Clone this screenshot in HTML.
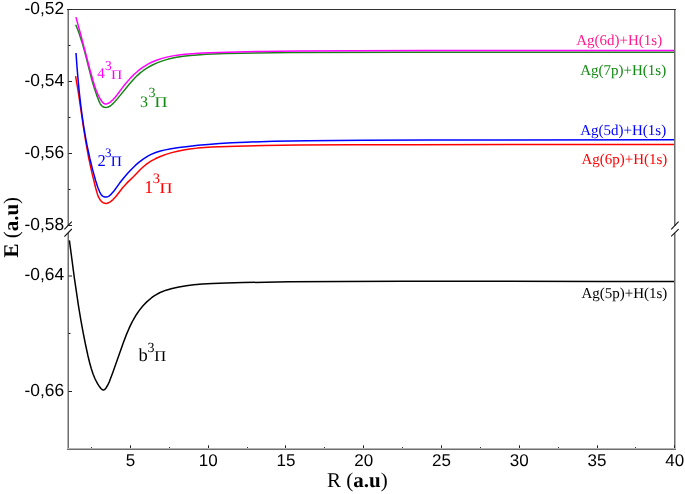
<!DOCTYPE html>
<html><head><meta charset="utf-8"><style>
html,body{margin:0;padding:0;background:#fff;width:685px;height:494px;overflow:hidden;}
svg{display:block;font-family:"Liberation Sans",sans-serif;will-change:transform;text-rendering:geometricPrecision;}
</style></head><body>
<svg width="685" height="494" viewBox="0 0 685 494"><rect width="685" height="494" fill="#fff"/><rect x="67" y="9" width="1" height="217" fill="#b4b4b4"/><rect x="68" y="9" width="1" height="217" fill="#6e6e6e"/><rect x="67" y="233" width="1" height="217" fill="#b4b4b4"/><rect x="68" y="233" width="1" height="217" fill="#6e6e6e"/><rect x="674" y="9" width="1" height="217" fill="#6e6e6e"/><rect x="675" y="9" width="1" height="217" fill="#b4b4b4"/><rect x="674" y="233" width="1" height="217" fill="#6e6e6e"/><rect x="675" y="233" width="1" height="217" fill="#b4b4b4"/><rect x="67" y="9" width="609" height="1" fill="#333333"/><rect x="67" y="448" width="609" height="1" fill="#b4b4b4"/><rect x="67" y="449" width="609" height="1" fill="#6e6e6e"/><line x1="68.5" y1="9.5" x2="72" y2="9.5" stroke="#222" stroke-width="1"/><line x1="68.5" y1="81.5" x2="72" y2="81.5" stroke="#222" stroke-width="1"/><line x1="68.5" y1="153.5" x2="72" y2="153.5" stroke="#222" stroke-width="1"/><line x1="68.5" y1="225.5" x2="72" y2="225.5" stroke="#222" stroke-width="1"/><line x1="68.5" y1="276" x2="72" y2="276" stroke="#222" stroke-width="1"/><line x1="68.5" y1="391.5" x2="72" y2="391.5" stroke="#222" stroke-width="1"/><line x1="68.5" y1="45.5" x2="70.5" y2="45.5" stroke="#222" stroke-width="1"/><line x1="68.5" y1="117.5" x2="70.5" y2="117.5" stroke="#222" stroke-width="1"/><line x1="68.5" y1="189.5" x2="70.5" y2="189.5" stroke="#222" stroke-width="1"/><line x1="68.5" y1="333.5" x2="70.5" y2="333.5" stroke="#222" stroke-width="1"/><line x1="130.5" y1="448" x2="130.5" y2="445.3" stroke="#222" stroke-width="1"/><line x1="208.5" y1="448" x2="208.5" y2="445.3" stroke="#222" stroke-width="1"/><line x1="285.5" y1="448" x2="285.5" y2="445.3" stroke="#222" stroke-width="1"/><line x1="363.5" y1="448" x2="363.5" y2="445.3" stroke="#222" stroke-width="1"/><line x1="441.5" y1="448" x2="441.5" y2="445.3" stroke="#222" stroke-width="1"/><line x1="519.5" y1="448" x2="519.5" y2="445.3" stroke="#222" stroke-width="1"/><line x1="597.5" y1="448" x2="597.5" y2="445.3" stroke="#222" stroke-width="1"/><line x1="674.5" y1="448" x2="674.5" y2="445.3" stroke="#222" stroke-width="1"/><line x1="91.5" y1="448" x2="91.5" y2="447.1" stroke="#222" stroke-width="1"/><line x1="169.5" y1="448" x2="169.5" y2="447.1" stroke="#222" stroke-width="1"/><line x1="247.5" y1="448" x2="247.5" y2="447.1" stroke="#222" stroke-width="1"/><line x1="324.5" y1="448" x2="324.5" y2="447.1" stroke="#222" stroke-width="1"/><line x1="402.5" y1="448" x2="402.5" y2="447.1" stroke="#222" stroke-width="1"/><line x1="480.5" y1="448" x2="480.5" y2="447.1" stroke="#222" stroke-width="1"/><line x1="558.5" y1="448" x2="558.5" y2="447.1" stroke="#222" stroke-width="1"/><line x1="635.5" y1="448" x2="635.5" y2="447.1" stroke="#222" stroke-width="1"/><line x1="64.4" y1="229.3" x2="71.8" y2="221.6" stroke="#111" stroke-width="1.1"/><line x1="64.4" y1="236.6" x2="71.8" y2="229" stroke="#111" stroke-width="1.1"/><line x1="671.2" y1="229.3" x2="678.6" y2="221.7" stroke="#111" stroke-width="1.1"/><line x1="671.2" y1="236.4" x2="678.6" y2="229.2" stroke="#111" stroke-width="1.1"/><path d="M75.71 24.70L77.60 29.27 79.32 33.93 82.37 43.42 85.04 53.08 91.77 79.47 94.19 87.76 96.67 95.12 99.32 101.92 100.22 103.79 100.89 104.84 101.65 105.76 102.53 106.51 103.56 107.04 104.70 107.35 105.88 107.43 107.03 107.30 108.15 106.99 109.24 106.50 111.11 105.29 112.70 103.92 114.95 101.58 117.72 98.37 129.64 83.72 134.32 78.43 137.20 75.59 140.25 72.93 143.45 70.47 147.63 67.70 151.97 65.26 156.44 63.15 161.03 61.36 165.72 59.85 170.50 58.58 176.58 57.31 183.25 56.27 190.24 55.47 197.27 54.88 206.30 54.31 225.52 53.53 255.43 52.93 291.62 52.56 402.78 52.27 674.00 52.29" fill="none" stroke="#178617" stroke-width="1.50" stroke-linejoin="round"/><path d="M75.90 17.10L80.23 32.75 90.08 70.26 93.12 81.05 94.98 87.00 96.35 90.77 97.53 93.57 99.34 97.27 100.91 100.01 102.09 101.74 102.90 102.67 103.76 103.41 104.69 103.90 105.70 104.07 106.78 103.93 108.80 103.04 110.58 101.80 113.03 99.61 115.16 97.30 117.22 94.77 122.24 87.88 125.29 83.95 130.62 77.88 134.23 74.29 138.03 70.94 141.21 68.46 145.13 65.80 148.33 63.94 152.73 61.77 157.27 59.94 161.94 58.40 166.71 57.13 172.79 55.88 178.99 54.93 185.00 54.26 192.07 53.69 202.18 53.12 227.21 52.16 259.60 51.46 298.08 51.02 356.14 50.72 427.18 50.54 674.00 50.50" fill="none" stroke="#ff00ff" stroke-width="1.50" stroke-linejoin="round"/><path d="M75.60 76.10L78.45 93.11 83.52 127.68 85.86 142.48 88.61 157.50 91.77 172.17 95.60 187.75 97.28 193.66 98.35 196.66 99.85 199.47 101.10 201.08 101.98 201.92 102.92 202.60 103.92 203.09 104.98 203.37 106.08 203.41 107.22 203.21 108.38 202.81 110.21 201.83 112.77 199.85 115.71 196.77 122.64 187.72 126.77 183.16 133.43 176.68 140.62 169.31 143.33 166.75 147.19 163.64 151.33 160.91 155.72 158.54 160.29 156.49 165.95 154.39 171.71 152.64 177.53 151.20 183.63 149.97 189.78 149.00 197.20 148.12 204.66 147.48 211.89 147.04 235.88 146.13 264.36 145.49 298.08 145.11 351.77 144.80 412.97 144.63 674.00 144.49" fill="none" stroke="#ff0000" stroke-width="1.50" stroke-linejoin="round"/><path d="M76.00 53.00L77.09 67.94 78.23 81.40 79.40 93.36 80.76 105.30 82.18 116.22 83.80 127.11 85.60 137.71 87.49 147.53 89.87 158.51 92.54 169.41 95.53 180.24 97.76 187.19 99.72 192.01 100.69 193.89 101.27 194.73 102.09 195.63 103.03 196.33 104.05 196.82 105.13 197.08 106.24 197.10 107.37 196.86 108.49 196.36 109.36 195.80 111.03 194.36 113.95 190.98 119.48 183.33 123.25 178.45 127.25 173.71 130.99 169.67 135.32 165.44 139.14 162.12 143.15 159.07 147.79 156.11 151.09 154.39 155.66 152.51 160.39 151.03 165.23 149.87 171.14 148.77 179.09 147.58 188.05 146.42 198.01 145.33 207.97 144.42 219.44 143.56 231.91 142.81 245.64 142.15 273.62 141.25 307.63 140.67 363.65 140.20 427.67 139.93 674.00 139.84" fill="none" stroke="#0000ff" stroke-width="1.50" stroke-linejoin="round"/><path d="M69.40 240.30L74.38 278.22 78.60 306.62 80.86 320.17 83.10 332.45 85.40 343.98 87.94 355.73 89.58 362.54 91.26 368.55 93.24 374.43 95.12 379.00 97.39 383.43 99.59 386.82 100.93 388.44 101.71 389.18 102.56 389.77 103.59 390.03 104.54 389.65 105.41 388.82 106.04 387.97 107.68 385.24 109.41 381.57 112.90 372.27 123.40 342.40 126.29 334.89 129.03 328.42 131.28 323.67 133.61 319.26 136.14 314.99 138.92 310.88 142.78 306.03 146.75 301.88 151.33 297.96 153.77 296.19 156.30 294.57 159.15 293.01 161.41 291.94 166.07 290.17 172.09 288.47 178.94 287.00 186.33 285.78 193.76 284.85 202.46 284.08 212.44 283.50 226.43 282.99 242.93 282.56 289.15 281.87 342.88 281.41 402.85 281.21 601.53 281.47 674.00 281.38" fill="none" stroke="#000000" stroke-width="1.50" stroke-linejoin="round"/><text x="64.1" y="13.7" font-family="Liberation Sans, sans-serif" font-size="17.4" text-anchor="end" fill="#000">-0,52</text><text x="64.1" y="85.7" font-family="Liberation Sans, sans-serif" font-size="17.4" text-anchor="end" fill="#000">-0,54</text><text x="64.1" y="157.7" font-family="Liberation Sans, sans-serif" font-size="17.4" text-anchor="end" fill="#000">-0,56</text><text x="64.1" y="229.7" font-family="Liberation Sans, sans-serif" font-size="17.4" text-anchor="end" fill="#000">-0,58</text><text x="64.1" y="280.3" font-family="Liberation Sans, sans-serif" font-size="17.4" text-anchor="end" fill="#000">-0,64</text><text x="64.1" y="395.8" font-family="Liberation Sans, sans-serif" font-size="17.4" text-anchor="end" fill="#000">-0,66</text><text x="130.4" y="466.3" font-family="Liberation Sans, sans-serif" font-size="17" text-anchor="middle" fill="#000">5</text><text x="208.2" y="466.3" font-family="Liberation Sans, sans-serif" font-size="17" text-anchor="middle" fill="#000">10</text><text x="285.9" y="466.3" font-family="Liberation Sans, sans-serif" font-size="17" text-anchor="middle" fill="#000">15</text><text x="363.7" y="466.3" font-family="Liberation Sans, sans-serif" font-size="17" text-anchor="middle" fill="#000">20</text><text x="441.5" y="466.3" font-family="Liberation Sans, sans-serif" font-size="17" text-anchor="middle" fill="#000">25</text><text x="519.2" y="466.3" font-family="Liberation Sans, sans-serif" font-size="17" text-anchor="middle" fill="#000">30</text><text x="597.0" y="466.3" font-family="Liberation Sans, sans-serif" font-size="17" text-anchor="middle" fill="#000">35</text><text x="674.8" y="466.3" font-family="Liberation Sans, sans-serif" font-size="17" text-anchor="middle" fill="#000">40</text><text font-family="Liberation Serif, serif" fill="#ff00ff"><tspan x="97.20" y="77.90" font-size="15">4</tspan><tspan x="105.00" y="70.00" font-size="13.5">3</tspan></text><text font-family="Liberation Serif, serif" fill="#ff00ff" font-size="13" transform="translate(111.10,78.60) scale(1.200,1)">&#928;</text><text font-family="Liberation Serif, serif" fill="#118a11"><tspan x="140.10" y="106.60" font-size="16">3</tspan><tspan x="148.50" y="96.70" font-size="14">3</tspan></text><text font-family="Liberation Serif, serif" fill="#118a11" font-size="15" transform="translate(154.40,106.50) scale(1.200,1)">&#928;</text><text font-family="Liberation Serif, serif" fill="#0000ff"><tspan x="97.40" y="165.70" font-size="16.5">2</tspan><tspan x="105.00" y="156.60" font-size="13">3</tspan></text><text font-family="Liberation Serif, serif" fill="#0000ff" font-size="14.5" transform="translate(110.80,165.70) scale(1.070,1)">&#928;</text><text font-family="Liberation Serif, serif" fill="#ff0000"><tspan x="144.30" y="192.70" font-size="18">1</tspan><tspan x="152.70" y="183.00" font-size="14.5">3</tspan></text><text font-family="Liberation Serif, serif" fill="#ff0000" font-size="15" transform="translate(159.60,192.70) scale(1.200,1)">&#928;</text><text font-family="Liberation Serif, serif" fill="#000000"><tspan x="138.40" y="360.70" font-size="18.5">b</tspan><tspan x="147.50" y="351.50" font-size="14">3</tspan></text><text font-family="Liberation Serif, serif" fill="#000000" font-size="15" transform="translate(154.20,360.70) scale(1.100,1)">&#928;</text><text x="576.2" y="45.1" font-family="Liberation Serif, serif" font-size="15" fill="#ff1a8c">Ag(6d)+H(1s)</text><text x="580.2" y="75.1" font-family="Liberation Serif, serif" font-size="15" fill="#118a11">Ag(7p)+H(1s)</text><text x="580.2" y="135.4" font-family="Liberation Serif, serif" font-size="15" fill="#0000ff">Ag(5d)+H(1s)</text><text x="581.4" y="164.0" font-family="Liberation Serif, serif" font-size="15" fill="#ff0000">Ag(6p)+H(1s)</text><text x="581.4" y="297.9" font-family="Liberation Serif, serif" font-size="15" fill="#000000">Ag(5p)+H(1s)</text><text x="327" y="487.3" font-family="Liberation Serif, serif" font-size="21" fill="#000">R (<tspan font-weight="bold">a.u</tspan>)</text><text transform="translate(18.4,257.6) rotate(-90)" x="0" y="0" font-family="Liberation Serif, serif" font-size="21" fill="#000"><tspan font-weight="bold">E</tspan> (<tspan font-weight="bold">a.u</tspan>)</text></svg>
</body></html>
